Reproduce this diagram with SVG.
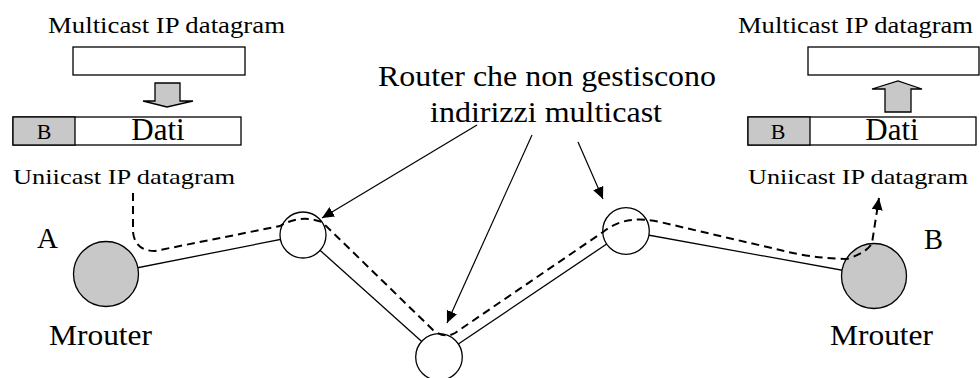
<svg xmlns="http://www.w3.org/2000/svg" width="980" height="378" viewBox="0 0 980 378">
<defs>
<style>
text{font-family:"Liberation Serif","Times New Roman",serif;fill:#000}
.box{fill:#fff;stroke:#000;stroke-width:1.3}
.grey{fill:#c8c8c8;stroke:#000;stroke-width:1.3}
.link{stroke:#000;stroke-width:1.3;fill:none}
.dash{stroke:#000;stroke-width:2;fill:none;stroke-dasharray:8,5}
.ptr{stroke:#000;stroke-width:1.2;fill:none}
</style>
<marker id="ah" markerUnits="userSpaceOnUse" markerWidth="13" markerHeight="11" refX="12" refY="5.5" orient="auto">
<path d="M0,0 L12,5.5 L0,11 z" fill="#000"/>
</marker>
</defs>
<rect width="980" height="378" fill="#fff"/>

<g id="packet-left">
<text x="48" y="33" font-size="23" textLength="237" lengthAdjust="spacingAndGlyphs">Multicast IP datagram</text>
<rect class="box" x="73" y="47" width="172" height="28"/>
<polygon class="grey" points="155,83 180,83 180,101 193,101 167,107 143,101 155,101"/>
<rect class="box" x="13" y="117" width="228" height="28"/>
<rect class="grey" x="13" y="117" width="62" height="28"/>
<text x="44" y="139" font-size="22" text-anchor="middle">B</text>
<text x="158" y="140" font-size="31" text-anchor="middle">Dati</text>
<text x="13" y="184" font-size="22" textLength="222" lengthAdjust="spacingAndGlyphs">Uniicast IP datagram</text>
</g>

<g id="packet-right">
<text x="738" y="33" font-size="23" textLength="235" lengthAdjust="spacingAndGlyphs">Multicast IP datagram</text>
<rect class="box" x="808" y="47" width="171" height="28"/>
<polygon class="grey" points="885,112 911,112 911,89 922,89 898,81 872,89 885,89"/>
<rect class="box" x="748" y="117" width="228" height="28"/>
<rect class="grey" x="748" y="117" width="62" height="28"/>
<text x="778" y="139" font-size="22" text-anchor="middle">B</text>
<text x="892" y="140" font-size="31" text-anchor="middle">Dati</text>
<text x="748" y="184" font-size="22" textLength="220" lengthAdjust="spacingAndGlyphs">Uniicast IP datagram</text>
</g>

<g id="label-routers">
<text x="378" y="86" font-size="30" textLength="338" lengthAdjust="spacingAndGlyphs">Router che non gestiscono</text>
<text x="430" y="122" font-size="30" textLength="232" lengthAdjust="spacingAndGlyphs">indirizzi multicast</text>
</g>

<g id="connectors">
<line class="link" x1="106" y1="274" x2="303" y2="235"/>
<line class="link" x1="303" y1="235" x2="439" y2="357"/>
<line class="link" x1="439" y1="357" x2="626" y2="231"/>
<line class="link" x1="626" y1="231" x2="874" y2="276"/>
</g>

<g id="mrouter-a">
<circle class="grey" cx="106" cy="274" r="32.5"/>
<text x="37" y="248" font-size="29" textLength="21" lengthAdjust="spacingAndGlyphs">A</text>
<text x="49" y="345" font-size="30" textLength="103" lengthAdjust="spacingAndGlyphs">Mrouter</text>
</g>
<g id="router-1"><circle class="box" cx="303" cy="235" r="23"/></g>
<g id="router-2"><circle class="box" cx="439" cy="357" r="23.3"/></g>
<g id="router-3"><circle class="box" cx="626" cy="231" r="23.3"/></g>
<g id="mrouter-b">
<circle class="grey" cx="874" cy="276" r="32.5"/>
<text x="924" y="249" font-size="29" textLength="19" lengthAdjust="spacingAndGlyphs">B</text>
<text x="830" y="345" font-size="30" textLength="103" lengthAdjust="spacingAndGlyphs">Mrouter</text>
</g>

<g id="paths">
<path class="dash" d="M133,193 L133,232 Q135,251 155,251 L280,226 Q300,214 322,222 L433,330 Q445,339 455,333 L603,232 Q625,214 660,222 L780,250 Q810,258 847,259 Q868,252 872,243 L879,198" marker-end="url(#ah)"/>
<line class="ptr" x1="477" y1="125" x2="322" y2="218" marker-end="url(#ah)"/>
<line class="ptr" x1="532" y1="135" x2="447" y2="323" marker-end="url(#ah)"/>
<line class="ptr" x1="578" y1="142" x2="603" y2="199" marker-end="url(#ah)"/>
</g>
</svg>
